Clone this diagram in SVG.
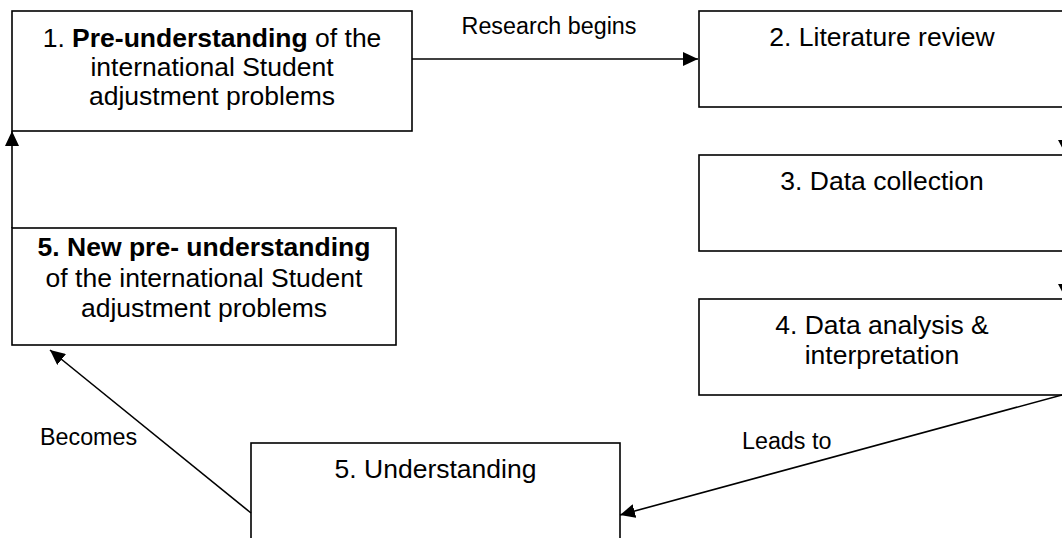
<svg xmlns="http://www.w3.org/2000/svg" width="1062" height="538" viewBox="0 0 1062 538">
<style>
.box{fill:#fff;stroke:#000;stroke-width:1.6}
.t{font-family:"Liberation Sans",Arial,sans-serif;font-size:26.5px;fill:#000;text-anchor:middle}
.l{font-family:"Liberation Sans",Arial,sans-serif;font-size:23.3px;fill:#000}
.b{font-weight:bold}
.c{stroke:#000;stroke-width:1.6;fill:none}
</style>
<defs>
<marker id="ah" viewBox="0 0 15 14" refX="15" refY="7" markerWidth="15" markerHeight="14" markerUnits="userSpaceOnUse" orient="auto">
<path d="M0,0 L15,7 L0,14 Z" fill="#000"/>
</marker>
</defs>
<rect width="1062" height="538" fill="#fff"/>
<g id="n1">
<rect class="box" x="12" y="11" width="400" height="120"/>
<text class="t" x="212" y="47">1. <tspan class="b">Pre-understanding</tspan> of the</text>
<text class="t" x="212" y="76">international Student</text>
<text class="t" x="212" y="105">adjustment problems</text>
</g>
<g id="n2">
<rect class="box" x="699" y="11" width="370" height="96"/>
<text class="t" x="882" y="46">2. Literature review</text>
</g>
<g id="n3">
<rect class="box" x="699" y="155" width="370" height="96"/>
<text class="t" x="882" y="190">3. Data collection</text>
</g>
<g id="n4">
<rect class="box" x="699" y="299" width="370" height="96"/>
<text class="t" x="882" y="334">4. Data analysis &amp;</text>
<text class="t" x="882" y="364">interpretation</text>
</g>
<g id="n5">
<rect class="box" x="12" y="228" width="384" height="117"/>
<text class="t b" x="204" y="256">5. New pre- understanding</text>
<text class="t" x="204" y="287">of the international Student</text>
<text class="t" x="204" y="317">adjustment problems</text>
</g>
<g id="n6">
<rect class="box" x="251" y="443" width="369" height="120"/>
<text class="t" x="435.5" y="478">5. Understanding</text>
</g>
<g id="connectors">
<line class="c" x1="412" y1="59" x2="698" y2="59" marker-end="url(#ah)"/>
<text class="l" x="549" y="34" text-anchor="middle">Research begins</text>
<polygon points="1058,140 1074,140 1066,155" fill="#000"/>
<polygon points="1058,284 1074,284 1066,299" fill="#000"/>
<line class="c" x1="1062" y1="395" x2="620" y2="515" marker-end="url(#ah)"/>
<text class="l" x="742" y="449">Leads to</text>
<line class="c" x1="251" y1="513" x2="50" y2="350" marker-end="url(#ah)"/>
<text class="l" x="40" y="445">Becomes</text>
<line class="c" x1="12" y1="228" x2="12" y2="131" marker-end="url(#ah)"/>
</g>
</svg>
